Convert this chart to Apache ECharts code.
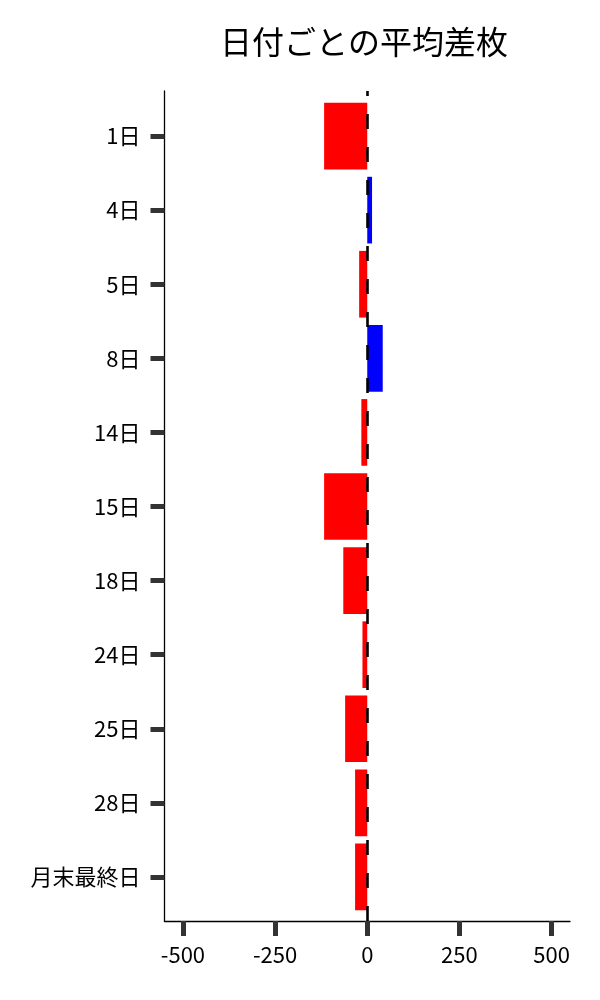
<!DOCTYPE html>
<html>
<head>
<meta charset="utf-8">
<script src="https://cdn.jsdelivr.net/npm/echarts@6/dist/echarts.min.js"></script>
<style>html,body{margin:0;padding:0;background:#fff}#c{width:600px;height:1000px}</style>
</head>
<body>
<div id="c"></div>
<script>
const titleText = '日付ごとの平均差枚';
const categories = ['1日','4日','5日','8日','14日','15日','18日','24日','25日','28日','月末最終日'];
const values = [-117, 13, -22, 42, -16, -117, -65, -13, -60, -33, -33];
const xTicks = [-500, -250, 0, 250, 500];

const FONT = '"Noto Sans CJK JP", "Noto Sans", sans-serif';
const chart = echarts.init(document.getElementById('c'), null, {renderer: 'canvas'});
const L = 164.5, R = 30;
chart.setOption({
  animation: false,
  backgroundColor: '#fff',
  title: {
    text: titleText, left: 359, top: 21, textAlign: 'center',
    textStyle: {fontFamily: FONT, fontSize: 32, fontWeight: 'normal', color: '#000'}
  },
  grid: [
    {left: L, right: R, top: 91, bottom: 79},
    {left: L, right: R, top: 99, bottom: 86}
  ],
  xAxis: [
    {
      gridIndex: 0, type: 'value', min: -550, max: 550,
      axisLine: {show: true, onZero: false, lineStyle: {color: '#000', width: 1.3}},
      axisTick: {show: true, customValues: xTicks, length: 15, lineStyle: {color: '#333', width: 5}},
      axisLabel: {show: true, customValues: xTicks, margin: 23, fontFamily: FONT, fontSize: 22, color: '#000'},
      splitLine: {show: false}
    },
    {
      gridIndex: 1, type: 'value', min: -550, max: 550, show: false,
      axisLine: {onZero: false},
      splitLine: {show: false}
    }
  ],
  yAxis: [
    {
      gridIndex: 0, type: 'value', min: 0, max: 1,
      axisLine: {show: true, onZero: false, lineStyle: {color: '#000', width: 1.3}},
      axisTick: {show: false}, axisLabel: {show: false}, splitLine: {show: false}
    },
    {
      gridIndex: 1, type: 'category', data: categories, inverse: true,
      axisLine: {show: false, onZero: false},
      axisTick: {show: true, alignWithLabel: true, length: 14, lineStyle: {color: '#333', width: 5}},
      axisLabel: {margin: 24, fontFamily: FONT, fontSize: 22, color: '#000'},
      splitLine: {show: false}
    }
  ],
  series: [
    {
      type: 'bar', xAxisIndex: 1, yAxisIndex: 1,
      data: values, barCategoryGap: '10%',
      itemStyle: {color: p => p.value < 0 ? '#ff0000' : '#0000ff'},
      z: 2
    },
    {
      type: 'line', xAxisIndex: 0, yAxisIndex: 0, data: [], z: 5,
      markLine: {
        silent: true, symbol: ['none', 'none'], label: {show: false},
        lineStyle: {color: '#000', width: 2.6, type: [15, 18]},
        data: [[{coord: [0, 0]}, {coord: [0, 1]}]],
        z: 5
      }
    }
  ]
});
</script>
</body>
</html>
